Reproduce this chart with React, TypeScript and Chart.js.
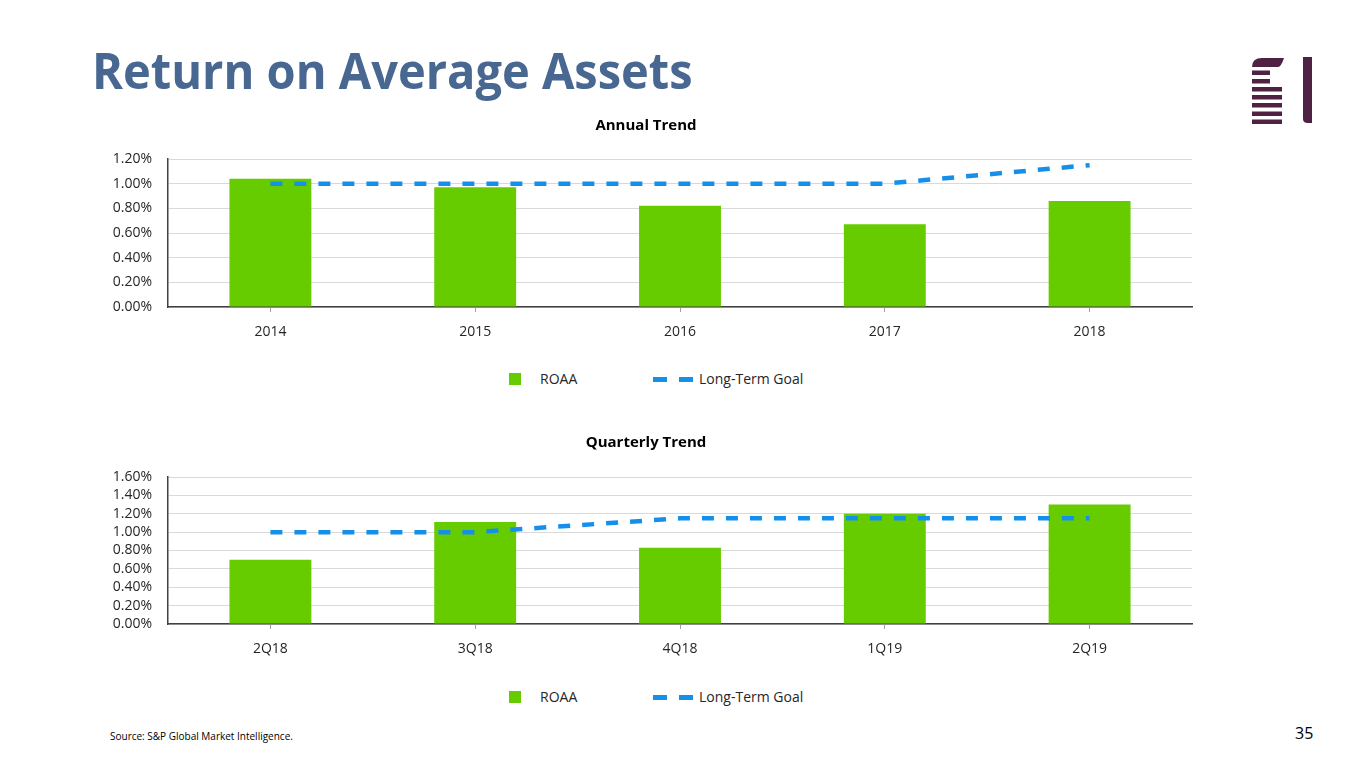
import React, { useEffect, useRef } from "react";
import { Chart, registerables } from "chart.js";

Chart.register(...registerables);

const annualCategories = ["2014", "2015", "2016", "2017", "2018"];
const annualRoaa = [1.04, 0.97, 0.82, 0.67, 0.86];
const annualGoal = [1.0, 1.0, 1.0, 1.0, 1.15];
const annualAxisMax = 1.2;

const quarterlyCategories = ["2Q18", "3Q18", "4Q18", "1Q19", "2Q19"];
const quarterlyRoaa = [0.7, 1.11, 0.83, 1.2, 1.3];
const quarterlyGoal = [1.0, 1.0, 1.15, 1.15, 1.15];
const quarterlyAxisMax = 1.6;

const axisStep = 0.2;
const seriesNames = ["ROAA", "Long-Term Goal"];

const GREEN = "#66cc00";
const BLUE = "#1590ea";
const FONT = "'Open Sans', sans-serif";

type PanelProps = {
  labels: string[];
  roaa: number[];
  goal: number[];
  max: number;
  title: string;
  top: number;
  padTop: number;
  padBottom: number;
  xHeight: number;
};

function Panel(p: PanelProps) {
  const ref = useRef<HTMLCanvasElement | null>(null);
  useEffect(() => {
    if (!ref.current) return;
    const chart = new Chart(ref.current, {
      type: "bar",
      data: {
        labels: p.labels,
        datasets: [
          {
            type: "line",
            label: seriesNames[1],
            data: p.goal,
            borderColor: BLUE,
            borderWidth: 4.5,
            borderDash: [12, 12],
            borderCapStyle: "butt",
            pointRadius: 0,
            fill: false,
            tension: 0,
            order: 0,
          } as any,
          {
            type: "bar",
            label: seriesNames[0],
            data: p.roaa,
            backgroundColor: GREEN,
            borderWidth: 0,
            categoryPercentage: 1,
            barPercentage: 0.4,
            order: 1,
          } as any,
        ],
      },
      options: {
        animation: false,
        responsive: false,
        maintainAspectRatio: false,
        devicePixelRatio: 1,
        layout: { padding: { left: 0, right: 18, top: 0, bottom: 0 } },
        plugins: {
          legend: { display: false },
          tooltip: { enabled: false },
          title: {
            display: true,
            text: p.title,
            color: "#000000",
            font: { family: FONT, size: 15, weight: "bold", lineHeight: 1.2 },
            padding: { top: p.padTop, bottom: p.padBottom },
          },
        },
        scales: {
          x: {
            offset: true,
            grid: {
              display: true,
              offset: false,
              drawOnChartArea: false,
              drawTicks: true,
              tickLength: 5,
              tickColor: "#a0a0a0",
              color: "#a0a0a0",
            },
            border: { display: true, color: "#404040", width: 1.5 },
            ticks: {
              color: "#262626",
              font: { family: FONT, size: 14 },
              padding: 12,
            },
            afterFit: (s: any) => {
              s.height = p.xHeight;
            },
          } as any,
          y: {
            min: 0,
            max: p.max,
            grid: { color: "#d9d9d9", lineWidth: 1, drawTicks: false },
            border: { display: true, color: "#404040", width: 1.5 },
            ticks: {
              stepSize: axisStep,
              autoSkip: false,
              color: "#262626",
              font: { family: FONT, size: 14 },
              padding: 16,
              callback: (v: any) => Number(v).toFixed(2) + "%",
            },
            afterFit: (s: any) => {
              s.width = 68;
            },
          } as any,
        },
      },
    });
    return () => chart.destroy();
  }, []);
  return (
    <canvas
      ref={ref}
      width={1110}
      height={240}
      style={{ position: "absolute", left: 100, top: p.top, width: 1110, height: 240 }}
    />
  );
}

function Legend({ top }: { top: number }) {
  const txt: React.CSSProperties = {
    position: "absolute",
    fontFamily: FONT,
    fontSize: 14,
    color: "#262626",
    lineHeight: "16px",
    top: top - 8,
    whiteSpace: "nowrap",
  };
  return (
    <>
      <div
        style={{ position: "absolute", left: 509, top: top - 6, width: 12, height: 12, background: GREEN }}
      />
      <div style={{ ...txt, left: 540 }}>{seriesNames[0]}</div>
      <div style={{ position: "absolute", left: 653, top: top - 2, width: 14, height: 4.5, background: BLUE }} />
      <div style={{ position: "absolute", left: 679, top: top - 2, width: 14, height: 4.5, background: BLUE }} />
      <div style={{ ...txt, left: 699 }}>{seriesNames[1]}</div>
    </>
  );
}

function Logo() {
  const c = "#4f2244";
  return (
    <svg
      width={70}
      height={72}
      viewBox="0 0 70 72"
      style={{ position: "absolute", left: 1248, top: 55 }}
    >
      <path d="M4 12 Q4 3 14 3 L36 3 Q33 12 30 12 Z" fill={c} />
      <rect x={4} y={15.5} width={18} height={4.5} fill={c} />
      <rect x={4} y={24} width={18} height={4.5} fill={c} />
      <rect x={4} y={32} width={30} height={4.5} fill={c} />
      <rect x={4} y={40} width={30} height={4.5} fill={c} />
      <rect x={4} y={48} width={30} height={4.5} fill={c} />
      <rect x={4} y={56.5} width={30} height={4.5} fill={c} />
      <rect x={4} y={64.5} width={30} height={4.5} fill={c} />
      <path d="M55 2 L64 2 L64 68 L60 68 Q55 68 55 64 Z" fill={c} />
    </svg>
  );
}

export default function App() {
  return (
    <div
      style={{
        position: "absolute",
        left: 0,
        top: 0,
        width: 1365,
        height: 768,
        background: "#ffffff",
        overflow: "hidden",
      }}
    >
      <div
        style={{
          position: "absolute",
          left: 92,
          top: 45,
          fontFamily: FONT,
          fontWeight: 700,
          fontSize: 50,
          lineHeight: "50px",
          color: "#486791",
          whiteSpace: "nowrap",
          transform: "scaleX(0.94)",
          transformOrigin: "left top",
        }}
      >
        Return on Average Assets
      </div>
      <Logo />
      <Panel
        labels={annualCategories}
        roaa={annualRoaa}
        goal={annualGoal}
        max={annualAxisMax}
        title="Annual Trend"
        top={110}
        padTop={7}
        padBottom={24}
        xHeight={43}
      />
      <Legend top={379} />
      <Panel
        labels={quarterlyCategories}
        roaa={quarterlyRoaa}
        goal={quarterlyGoal}
        max={quarterlyAxisMax}
        title="Quarterly Trend"
        top={428}
        padTop={6}
        padBottom={25}
        xHeight={44}
      />
      <Legend top={697} />
      <div
        style={{
          position: "absolute",
          left: 110,
          top: 729,
          fontFamily: FONT,
          fontSize: 10,
          lineHeight: "14px",
          color: "#000000",
          whiteSpace: "nowrap",
        }}
      >
        Source: S&amp;P Global Market Intelligence.
      </div>
      <div
        style={{
          position: "absolute",
          left: 1295,
          top: 723,
          fontFamily: FONT,
          fontSize: 16,
          lineHeight: "20px",
          color: "#000000",
        }}
      >
        35
      </div>
    </div>
  );
}
